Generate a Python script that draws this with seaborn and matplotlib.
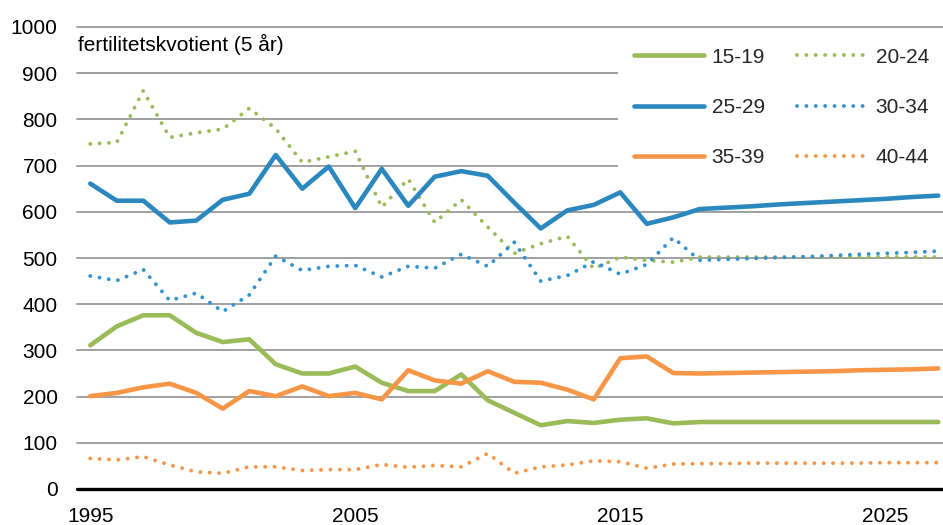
import matplotlib
matplotlib.use("Agg")
import matplotlib.pyplot as plt
import seaborn as sns
import pandas as pd

years = list(range(1995, 2028))

s15_19 = [311, 352, 376, 376, 338, 318, 324, 270, 250, 250,
          265, 230, 212, 212, 248, 192, 165, 138, 147, 143,
          150, 153, 142, 145, 145, 145, 145, 145, 145, 145,
          145, 145, 145]
s20_24 = [747, 750, 862, 761, 771, 779, 824, 780, 707, 719,
          731, 610, 671, 577, 626, 567, 510, 531, 547, 477,
          502, 495, 491, 502, 502, 502, 502, 502, 502, 502,
          502, 502, 502]
s25_29 = [661, 624, 624, 577, 581, 626, 639, 723, 650, 698,
          608, 693, 613, 676, 688, 678, 620, 564, 603, 615,
          642, 574, 588, 606, 609, 612, 616, 619, 622, 625,
          628, 632, 635]
s30_34 = [461, 451, 475, 408, 424, 384, 420, 504, 473, 482,
          484, 459, 482, 478, 508, 482, 534, 450, 462, 492,
          465, 486, 544, 495, 497, 499, 501, 503, 505, 508,
          510, 512, 515]
s35_39 = [201, 208, 220, 228, 208, 174, 212, 201, 222, 201,
          208, 194, 257, 235, 228, 255, 232, 230, 215, 194,
          283, 287, 251, 250, 251, 252, 253, 254, 255, 257,
          258, 259, 261]
s40_44 = [66, 63, 70, 52, 37, 34, 48, 48, 40, 42,
          42, 53, 47, 51, 48, 77, 34, 48, 52, 61,
          59, 45, 54, 55, 55, 56, 56, 56, 56, 56,
          57, 57, 57]

series_names = ["15-19", "20-24", "25-29", "30-34", "35-39", "40-44"]
series_values = [s15_19, s20_24, s25_29, s30_34, s35_39, s40_44]
ylabel_text = "fertilitetskvotient (5 år)"
xtick_years = [1995, 2005, 2015, 2025]

GREEN = "#9BBB59"
BLUE = "#2B88BF"
BLUE_DOT = "#3393CF"
ORANGE = "#F79646"
colors = [GREEN, GREEN, BLUE, BLUE_DOT, ORANGE, ORANGE]
dotted = [False, True, False, True, False, True]

sns.set_theme(style="white")
plt.rcParams["font.family"] = ["Liberation Sans", "DejaVu Sans"]
FS = 15

frames = []
for name, vals in zip(series_names, series_values):
    frames.append(pd.DataFrame({"year": years, "value": vals, "series": name}))
df = pd.concat(frames, ignore_index=True)

W, H = 943, 525
fig = plt.figure(figsize=(W / 100, H / 100), dpi=100)
ax_left, ax_right, ax_top, ax_bottom = 77, 943, 27, 489
ax = fig.add_axes([ax_left / W, (H - ax_bottom) / H,
                   (ax_right - ax_left) / W, (ax_bottom - ax_top) / H])

handles = {}
for name, c, dot in zip(series_names, colors, dotted):
    sub = df[df["series"] == name]
    if dot:
        sns.lineplot(data=sub, x="year", y="value", ax=ax, color=c,
                     linewidth=2.8, linestyle=(0, (0.01, 2.4)),
                     dash_capstyle="round", label=name, legend=False)
    else:
        sns.lineplot(data=sub, x="year", y="value", ax=ax, color=c,
                     linewidth=3.3, solid_capstyle="round",
                     solid_joinstyle="round", label=name, legend=False)
    handles[name] = ax.get_lines()[-1]

ax.set_xlim(1994.5, 1994.5 + (ax_right - ax_left) / 26.5)
ax.set_ylim(0, 1000)
ax.set_yticks(range(0, 1001, 100))
ax.set_xticks(xtick_years)
ax.set_xlabel("")
ax.set_ylabel("")
for sp in ax.spines.values():
    sp.set_visible(False)
ax.grid(axis="y", color="#A0A0A0", linewidth=1.4)
ax.grid(axis="x", visible=False)
ax.set_axisbelow(True)
for gl in ax.get_ygridlines():
    gl.set_clip_on(False)
ax.axhline(0, color="black", linewidth=2.4, zorder=1.5, clip_on=False)
ax.tick_params(axis="both", length=0, labelsize=FS, colors="black")
ax.tick_params(axis="y", pad=14)
ax.tick_params(axis="x", pad=13)

fig.text(78 / W, 1 - 44 / H, ylabel_text, fontsize=FS, va="center",
         ha="left", color="black")

order = ["15-19", "25-29", "35-39", "20-24", "30-34", "40-44"]
leg = ax.legend([handles[n] for n in order], order, ncol=2,
                loc="upper left", bbox_to_anchor=(618 / W, 1 - 32 / H),
                bbox_transform=fig.transFigure, fontsize=FS,
                frameon=True, facecolor="white", edgecolor="none",
                framealpha=1.0, fancybox=False, borderpad=0.75,
                labelspacing=1.5, handlelength=3.4, handletextpad=0.35,
                columnspacing=1.55, borderaxespad=0)

fig.savefig("out.png", dpi=100, facecolor="white")
